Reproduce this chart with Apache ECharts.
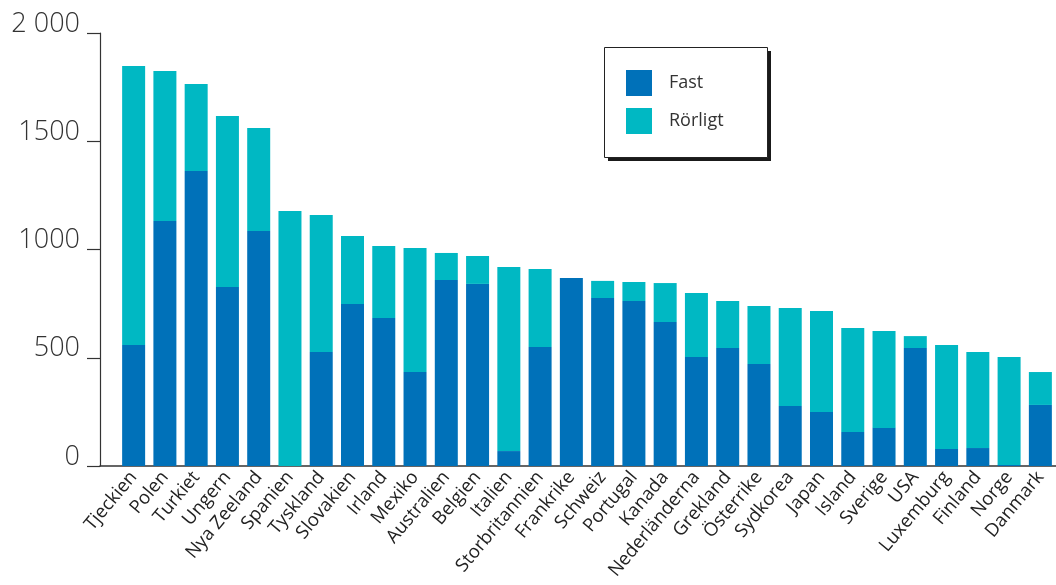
<!DOCTYPE html>
<html>
<head>
<meta charset="utf-8">
<script src="https://cdn.jsdelivr.net/npm/echarts@6/dist/echarts.min.js"></script>
<style>
  html, body { margin: 0; padding: 0; background: #fff; }
  #chart { width: 1056px; height: 585px; }
</style>
</head>
<body>
<div id="chart"></div>
<script>
// Countries, sorted by total
const categories = ['Tjeckien', 'Polen', 'Turkiet', 'Ungern', 'Nya Zeeland', 'Spanien', 'Tyskland',
  'Slovakien', 'Irland', 'Mexiko', 'Australien', 'Belgien', 'Italien', 'Storbritannien', 'Frankrike',
  'Schweiz', 'Portugal', 'Kanada', 'Nederländerna', 'Grekland', 'Österrike', 'Sydkorea', 'Japan',
  'Island', 'Sverige', 'USA', 'Luxemburg', 'Finland', 'Norge', 'Danmark'];

// Fixed part
const fast = [559, 1132, 1363, 827, 1085, 0, 527, 748, 684, 434, 859, 841, 69, 550, 868,
  776, 762, 665, 503, 545, 471, 277, 249, 157, 176, 545, 79, 83, 5, 282];

// Variable part
const rorligt = [1289, 692, 401, 790, 476, 1178, 632, 314, 332, 573, 125, 129, 850, 360, 0,
  79, 88, 180, 296, 217, 268, 453, 467, 480, 448, 55, 480, 444, 498, 152];

const yTicks = [0, 500, 1000, 1500, 2000];
const yTickLabels = ['0', '500', '1000', '1500', '2 000'];

const FONT = '"Open Sans", "Noto Sans", sans-serif';
const chart = echarts.init(document.getElementById('chart'));

const gridTop = 33, gridBottom = 119;

// Legend frame with a hard drop shadow
const legendBox = { x: 604, y: 47, w: 163, h: 110, shadow: 4 };

chart.setOption({
  animation: false,
  textStyle: { fontFamily: FONT },
  graphic: [
    {
      type: 'rect', z: 10, silent: true,
      shape: { x: legendBox.x + legendBox.shadow, y: legendBox.y + legendBox.shadow, width: legendBox.w, height: legendBox.h },
      style: { fill: '#1a1a1a' }
    },
    {
      type: 'rect', z: 11, silent: true,
      shape: { x: legendBox.x + 0.5, y: legendBox.y + 0.5, width: legendBox.w, height: legendBox.h },
      style: { fill: '#fff', stroke: '#222', lineWidth: 1 }
    }
  ],
  legend: {
    z: 20,
    orient: 'vertical',
    left: 604,
    top: 47,
    padding: [23, 30, 22, 22],
    itemWidth: 26,
    itemHeight: 26,
    itemGap: 12,
    icon: 'rect',
    textStyle: { fontFamily: FONT, fontSize: 18, color: '#333', padding: [3, 0, 0, 12] },
    data: ['Fast', 'Rörligt']
  },
  grid: [
    { left: 118, top: gridTop, bottom: gridBottom, width: 945 },
    { left: 100, top: gridTop, bottom: gridBottom, right: 0 }
  ],
  xAxis: [
    {
      type: 'category',
      gridIndex: 0,
      data: categories,
      axisLine: { show: false },
      axisTick: { show: false },
      axisLabel: {
        interval: 0,
        rotate: 50,
        margin: 8,
        fontFamily: FONT,
        fontSize: 18.5,
        color: '#222'
      }
    },
    {
      type: 'category',
      gridIndex: 1,
      data: [''],
      axisLine: { show: true, lineStyle: { color: '#333', width: 1.5 } },
      axisTick: { show: false },
      axisLabel: { show: false }
    }
  ],
  yAxis: [
    {
      type: 'value',
      gridIndex: 0,
      min: 0, max: 2000, interval: 500,
      axisLine: { show: false },
      axisTick: { show: false },
      axisLabel: { show: false },
      splitLine: { show: false }
    },
    {
      type: 'value',
      gridIndex: 1,
      min: 0, max: 2000, interval: 500,
      axisLine: { show: true, lineStyle: { color: '#333', width: 1.2 } },
      axisTick: { show: true, length: 13, lineStyle: { color: '#333', width: 1.2 } },
      axisLabel: {
        margin: 20,
        fontFamily: FONT,
        fontSize: 27,
        fontWeight: 300,
        lineHeight: 18,
        verticalAlign: 'bottom',
        color: '#333',
        formatter: v => yTickLabels[yTicks.indexOf(v)]
      },
      splitLine: { show: false }
    }
  ],
  series: [
    {
      name: 'Fast',
      type: 'bar',
      stack: 'total',
      xAxisIndex: 0,
      yAxisIndex: 0,
      barWidth: 23,
      itemStyle: { color: '#0071b9' },
      data: fast
    },
    {
      name: 'Rörligt',
      type: 'bar',
      stack: 'total',
      xAxisIndex: 0,
      yAxisIndex: 0,
      barWidth: 23,
      itemStyle: { color: '#00b8c3' },
      data: rorligt
    }
  ]
});
</script>
</body>
</html>
